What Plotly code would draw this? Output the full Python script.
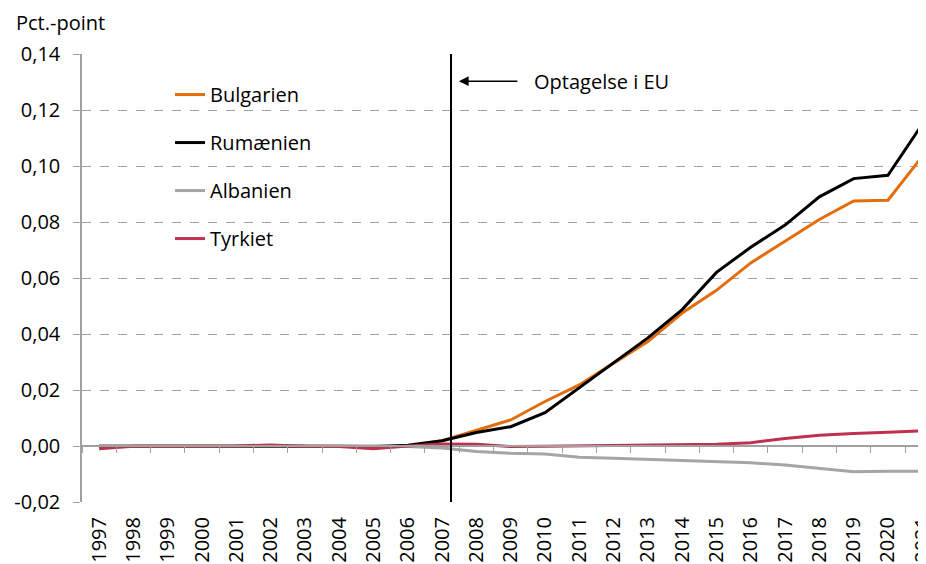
import plotly.graph_objects as go

years = [str(y) for y in range(1997, 2022)]

bulgarien = [0.0, 0.0, 0.0, 0.0, 0.0, 0.0002, 0.0, 0.0, -0.0003, 0.0, 0.0019, 0.0057, 0.0093,
             0.0159, 0.0218, 0.0296, 0.0373, 0.0475, 0.0556, 0.0654, 0.0731, 0.0809, 0.0875,
             0.0878, 0.1034]
rumaenien = [0.0, 0.0, 0.0, 0.0, 0.0, -0.0002, 0.0, 0.0, -0.0002, 0.0003, 0.0019, 0.0048, 0.0069,
             0.0119, 0.0207, 0.0296, 0.0386, 0.0487, 0.0620, 0.0710, 0.0789, 0.0890, 0.0955,
             0.0967, 0.1149]
albanien = [0.0002, 0.0001, 0.0, 0.0001, 0.0001, 0.0001, 0.0002, 0.0002, 0.0, -0.0002, -0.0007,
            -0.0020, -0.0026, -0.0029, -0.0040, -0.0044, -0.0048, -0.0051, -0.0054, -0.0060,
            -0.0068, -0.0080, -0.0092, -0.0090, -0.0090]
tyrkiet = [-0.0010, -0.0001, -0.0001, 0.0, 0.0, 0.0004, -0.0001, -0.0002, -0.0010, 0.0, 0.0007,
           0.0006, -0.0002, -0.0001, 0.0, 0.0001, 0.0002, 0.0004, 0.0006, 0.0012, 0.0027,
           0.0038, 0.0045, 0.0049, 0.0054]

y_tick_vals = [-0.02, 0.0, 0.02, 0.04, 0.06, 0.08, 0.10, 0.12, 0.14]
y_tick_labels = ["-0,02", "0,00", "0,02", "0,04", "0,06", "0,08", "0,10", "0,12", "0,14"]

series = [
    ("Bulgarien", bulgarien, "#E46C0A"),
    ("Rumænien", rumaenien, "#000000"),
    ("Albanien", albanien, "#A5A5A5"),
    ("Tyrkiet", tyrkiet, "#C0304F"),
]

eu_line_pos = 10.26   # category index of the EU-entry marker line
y_range = [-0.02, 0.14]
x_range = [-0.5, 24.11]
FONT = "Open Sans"
FS = 20

fig = go.Figure()
for i, (name, vals, col) in enumerate(series):
    fig.add_trace(go.Scatter(x=years, y=vals, name=name, mode="lines",
                             line=dict(color=col, width=3), legendgroup=f"g{i}"))

# invisible trace for the axis that sits at y = 0 (tick marks)
fig.add_trace(go.Scatter(x=years, y=[0] * len(years), xaxis="x2", mode="lines",
                         line=dict(width=0), showlegend=False, hoverinfo="skip"))

zero_pos = (0 - y_range[0]) / (y_range[1] - y_range[0])

# page body has an 8px margin, so the figure is 8px smaller and margins shifted
fig.update_layout(
    width=918, height=556,
    margin=dict(l=74, r=0, t=46, b=62, autoexpand=False),
    plot_bgcolor="white", paper_bgcolor="white",
    font=dict(family=FONT, size=FS, color="#000000"),
    xaxis=dict(type="category", range=x_range, showgrid=False, showline=False,
               ticks="", tickangle=-90, tickfont=dict(size=FS), zeroline=False,
               ticklabelstandoff=10, automargin=False),
    xaxis2=dict(type="category", range=x_range, overlaying="x", anchor="free",
                position=zero_pos, side="bottom", showgrid=False, showline=True,
                linecolor="#A0A0A0", linewidth=1.5, ticks="outside", tickson="boundaries",
                ticklen=6, tickcolor="#A0A0A0", showticklabels=False, zeroline=False),
    yaxis=dict(range=y_range, tickmode="array", tickvals=y_tick_vals, ticktext=y_tick_labels,
               showgrid=True, gridcolor="#A0A0A0", griddash="dash", gridwidth=1,
               showline=True, linecolor="#A0A0A0", linewidth=1.5,
               ticks="outside", ticklen=7, tickcolor="#A0A0A0",
               zeroline=False, tickfont=dict(size=FS), ticklabelstandoff=9,
               automargin=False),
    legend=dict(x=0.1043, y=0.953, xanchor="left", yanchor="top",
                bgcolor="rgba(0,0,0,0)", font=dict(size=FS),
                traceorder="grouped", tracegroupgap=19),
    showlegend=True,
)

fig.add_shape(type="line", xref="x", yref="paper", x0=eu_line_pos, x1=eu_line_pos,
              y0=0, y1=1, line=dict(color="black", width=2))

fig.add_annotation(xref="x", yref="y", x=10.49, y=0.1303, ax=60, ay=0, text="",
                   showarrow=True, arrowhead=2, arrowsize=1.3, arrowwidth=1.5,
                   arrowcolor="black")
fig.add_annotation(xref="x", yref="y", x=12.63, y=0.1303, text="Optagelse i EU",
                   showarrow=False, xanchor="left", yanchor="middle",
                   font=dict(size=FS))
fig.add_annotation(xref="paper", yref="paper", x=-0.0806, y=1.0714, text="Pct.-point",
                   showarrow=False, xanchor="left", yanchor="middle",
                   font=dict(size=FS))

fig.write_html("out.html")
